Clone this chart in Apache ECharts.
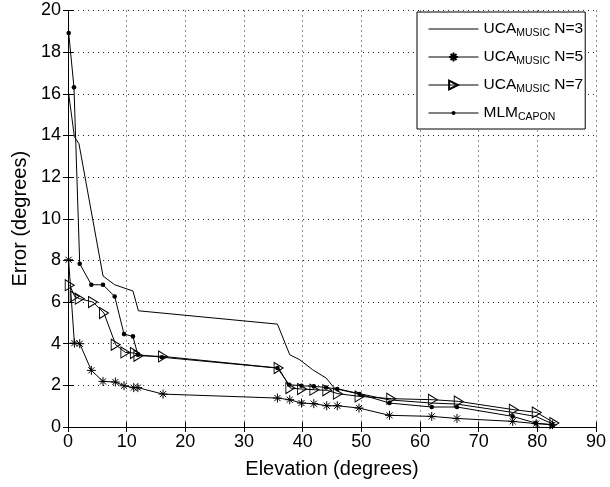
<!DOCTYPE html>
<html>
<head>
<meta charset="utf-8">
<script src="https://cdn.jsdelivr.net/npm/echarts@6/dist/echarts.min.js"></script>
<style>html,body{margin:0;padding:0;background:#fff}#c{width:610px;height:487px}</style>
</head>
<body>
<div id="c"></div>
<script>
// ---- data ----
var n3X = [0.07, 1.09, 1.87, 5.97, 7.96, 11.07, 12.0, 35.7, 37.8, 39.5, 41.7, 44.0, 45.4, 49.7, 54.8, 62.0, 66.3, 75.8, 79.8, 82.6];
var n3Y = [16.1, 13.94, 13.6, 7.25, 6.83, 6.53, 5.58, 4.94, 3.47, 3.23, 2.75, 2.35, 1.87, 1.6, 1.3, 1.15, 1.1, 0.7, 0.5, 0.15];

var n5X = [0.1, 1.09, 2.0, 3.98, 5.97, 8.07, 9.55, 11.2, 11.9, 16.2, 35.7, 37.8, 39.8, 41.9, 44.1, 45.9, 49.6, 54.8, 62.0, 66.3, 75.8, 79.8, 82.6];
var n5Y = [8.03, 4.03, 4.0, 2.72, 2.19, 2.16, 1.98, 1.89, 1.89, 1.58, 1.39, 1.31, 1.15, 1.12, 1.02, 1.02, 0.91, 0.56, 0.51, 0.41, 0.27, 0.16, 0.11];

var n7X = [0.29, 1.14, 2.0, 4.26, 6.13, 8.13, 9.78, 11.4, 12.0, 16.2, 35.9, 37.9, 39.9, 42.0, 44.2, 46.0, 49.7, 55.1, 62.2, 66.6, 76.0, 79.9, 82.9];
var n7Y = [6.81, 6.27, 6.16, 6.0, 5.47, 3.95, 3.58, 3.55, 3.42, 3.39, 2.83, 1.87, 1.82, 1.79, 1.76, 1.6, 1.47, 1.36, 1.31, 1.23, 0.83, 0.70, 0.19];

var caponX = [0.12, 1.02, 2.0, 3.98, 5.96, 7.96, 9.55, 11.07, 11.9, 16.0, 35.7, 37.7, 39.8, 41.9, 44.0, 45.9, 49.7, 54.8, 62.0, 66.3, 75.8, 79.7, 82.5];
var caponY = [18.92, 16.31, 7.84, 6.83, 6.83, 6.27, 4.46, 4.35, 3.47, 3.35, 2.83, 2.03, 1.98, 1.95, 1.9, 1.82, 1.58, 1.15, 0.96, 0.96, 0.51, 0.19, 0.11];

var seriesNames = ['UCA_MUSIC N=3', 'UCA_MUSIC N=5', 'UCA_MUSIC N=7', 'MLM_CAPON'];
var legendLabels = {
  'UCA_MUSIC N=3': ['UCA', 'MUSIC', ' N=3'],
  'UCA_MUSIC N=5': ['UCA', 'MUSIC', ' N=5'],
  'UCA_MUSIC N=7': ['UCA', 'MUSIC', ' N=7'],
  'MLM_CAPON': ['MLM', 'CAPON', '']
};
var xTicks = {min: 0, max: 90, interval: 10};
var yTicks = {min: 0, max: 20, interval: 2};
var xTitle = 'Elevation (degrees)';
var yTitle = 'Error (degrees)';

function zip(xs, ys) { return xs.map(function (x, i) { return [x, ys[i]]; }); }

var FONT = "'Liberation Sans',Arial,Helvetica,sans-serif";
var STAR = 'path://M5,0L5,10M0,5L10,5M1.6,1.6L8.4,8.4M8.4,1.6L1.6,8.4';
var TRI = 'path://M0,0L10,5L0,10Z';
// small dot inside a 10x10 box (box corners set by move-to points)
var DOT = 'path://M0,0M10,10M7.3,5A2.3,2.3,0,1,1,2.7,5A2.3,2.3,0,1,1,7.3,5Z';

var chart = echarts.init(document.getElementById('c'), null, {renderer: 'canvas'});

var baseLine = {color: '#000', width: 1};
var gridLine = {color: '#222', type: [1, 4], width: 1};
var option = {
  backgroundColor: '#fff',
  animation: false,
  textStyle: {fontFamily: FONT},
  grid: {left: 68, right: 14, top: 10.5, bottom: 60, containLabel: false},
  legend: {
    orient: 'vertical',
    left: 417, top: 12,
    padding: [9, 2, 3, 11],
    itemGap: 7,
    itemWidth: 50, itemHeight: 11,
    backgroundColor: '#fff',
    borderColor: '#000', borderWidth: 1, borderRadius: 0,
    lineStyle: {color: '#000', width: 1},
    data: [
      {name: seriesNames[0], itemStyle: {opacity: 0}},
      {name: seriesNames[1]},
      {name: seriesNames[2]},
      {name: seriesNames[3]}
    ],
    formatter: function (name) {
      var p = legendLabels[name];
      return '{a|' + p[0] + '}{s|' + p[1] + '}' + (p[2] ? '{a|' + p[2] + '}' : '');
    },
    textStyle: {
      fontFamily: FONT,
      rich: {
        a: {fontSize: 15.5, lineHeight: 16, verticalAlign: 'top', padding: [0, 0, 5, 0], color: '#000', fontFamily: FONT},
        s: {fontSize: 10.5, lineHeight: 11, verticalAlign: 'top', padding: [7, 0, 0, 0], color: '#000', fontFamily: FONT}
      }
    }
  },
  xAxis: [{
    type: 'value', min: xTicks.min, max: xTicks.max, interval: xTicks.interval,
    name: xTitle, nameLocation: 'middle', nameGap: 32,
    nameTextStyle: {fontSize: 20, color: '#000', fontFamily: FONT},
    axisLine: {lineStyle: {color: '#000', width: 1}},
    axisTick: {inside: true, length: 5, lineStyle: {color: '#000'}},
    axisLabel: {fontSize: 18, color: '#000', margin: 6, fontFamily: FONT},
    splitLine: {show: true, lineStyle: gridLine}
  }, {
    type: 'value', position: 'top', min: xTicks.min, max: xTicks.max, interval: xTicks.interval,
    axisLine: {lineStyle: {color: '#000', width: 1}},
    axisTick: {inside: true, length: 5, lineStyle: {color: '#000'}},
    axisLabel: {show: false}, splitLine: {show: false}
  }],
  yAxis: [{
    type: 'value', min: yTicks.min, max: yTicks.max, interval: yTicks.interval,
    name: yTitle, nameLocation: 'middle', nameGap: 38, nameRotate: 90,
    nameTextStyle: {fontSize: 20, color: '#000', fontFamily: FONT},
    axisLine: {lineStyle: {color: '#000', width: 1}},
    axisTick: {inside: true, length: 5, lineStyle: {color: '#000'}},
    axisLabel: {fontSize: 18, color: '#000', margin: 7, fontFamily: FONT},
    splitLine: {show: true, lineStyle: gridLine}
  }, {
    type: 'value', position: 'right', min: yTicks.min, max: yTicks.max, interval: yTicks.interval,
    axisLine: {show: true, lineStyle: {color: '#000', width: 1}},
    axisTick: {show: true, inside: true, length: 5, lineStyle: {color: '#000'}},
    axisLabel: {show: false}, splitLine: {show: false}
  }],
  series: [{
    name: seriesNames[0], type: 'line', data: zip(n3X, n3Y),
    symbol: 'none', clip: false,
    lineStyle: baseLine, itemStyle: {color: '#000'}
  }, {
    name: seriesNames[1], type: 'line', data: zip(n5X, n5Y),
    symbol: STAR, symbolSize: 9, clip: false,
    lineStyle: baseLine,
    itemStyle: {color: 'none', borderColor: '#000', borderWidth: 1}
  }, {
    name: seriesNames[2], type: 'line', data: zip(n7X, n7Y),
    symbol: TRI, symbolSize: [9, 11], clip: false,
    lineStyle: baseLine,
    itemStyle: {color: 'none', borderColor: '#000', borderWidth: 1}
  }, {
    name: seriesNames[3], type: 'line', data: zip(caponX, caponY),
    symbol: DOT, symbolSize: 10, clip: false,
    lineStyle: baseLine,
    itemStyle: {color: '#000', borderWidth: 0}
  }]
};
chart.setOption(option);
</script>
</body>
</html>
